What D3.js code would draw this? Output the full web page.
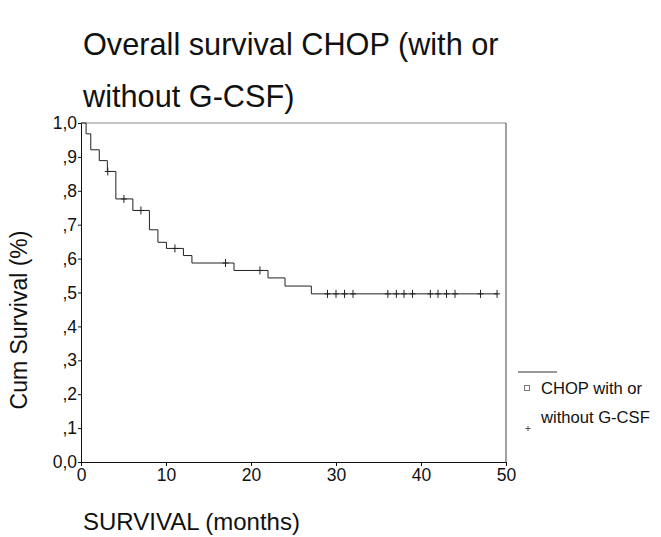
<!DOCTYPE html>
<html>
<head>
<meta charset="utf-8">
<script src="https://cdn.jsdelivr.net/npm/d3@7"></script>
<style>
  body { margin: 0; background: #fff; }
  svg { display: block; font-family: "Liberation Sans", Arial, sans-serif; }
</style>
</head>
<body>
<div id="chart"></div>
<script>
// step drops: month of event, survival after it
var eventTimes = [0.6, 1.15, 2.15, 3.1, 4.1, 6.1, 8.05, 9.05, 10.05, 12.05, 13.05, 18.0, 22.0, 24.0, 27.1];
var eventSurv  = [0.968, 0.921, 0.889, 0.857, 0.776, 0.742, 0.685, 0.648, 0.630, 0.609, 0.587, 0.565, 0.543, 0.519, 0.496];
var lastTime = 49;

// censored cases (the little + marks)
var censorTimes = [3.15, 5.05, 7.05, 11.05, 17.0, 21.05, 29, 30, 31, 32, 36.1, 37.1, 38, 39, 41.1, 42, 43, 44, 47, 48.95];

var xTicks = [0, 10, 20, 30, 40, 50];
var yTicks = [0, 0.1, 0.2, 0.3, 0.4, 0.5, 0.6, 0.7, 0.8, 0.9, 1.0];
var yTickLabels = ["0,0", ",1", ",2", ",3", ",4", ",5", ",6", ",7", ",8", ",9", "1,0"];

var width = 661, height = 537;
var plotLeft = 81, plotRight = 506, plotTop = 123, plotBottom = 462;

var svg = d3.select("#chart").append("svg")
  .attr("width", width)
  .attr("height", height);

var xScale = d3.scaleLinear().domain([0, 50]).range([plotLeft, plotRight]);
var yScale = d3.scaleLinear().domain([0, 1]).range([plotBottom, plotTop]);

// build the step points
var pts = [{t: 0, s: 1}];
eventTimes.forEach(function(t, i) { pts.push({t: t, s: eventSurv[i]}); });
pts.push({t: lastTime, s: eventSurv[eventSurv.length - 1]});

function survAt(t) {
  var s = 1;
  eventTimes.forEach(function(e, i) { if (e <= t) s = eventSurv[i]; });
  return s;
}

// title
svg.append("text").attr("x", 83).attr("y", 55)
  .attr("font-size", 30.7).attr("fill", "#111")
  .text("Overall survival CHOP (with or");
svg.append("text").attr("x", 83).attr("y", 107)
  .attr("font-size", 30.7).attr("fill", "#111")
  .text("without G-CSF)");

// frame (top and right)
svg.append("line")
  .attr("x1", plotLeft).attr("x2", plotRight).attr("y1", plotTop).attr("y2", plotTop)
  .attr("stroke", "#888").attr("stroke-width", 1);
svg.append("line")
  .attr("x1", plotRight).attr("x2", plotRight).attr("y1", plotTop).attr("y2", plotBottom)
  .attr("stroke", "#444").attr("stroke-width", 1);

// axes
var yAxis = d3.axisLeft(yScale)
  .tickValues(yTicks)
  .tickFormat(function(d, i) { return yTickLabels[i]; })
  .tickSizeInner(3).tickSizeOuter(0).tickPadding(1);
var gy = svg.append("g").attr("transform", "translate(" + plotLeft + ",0)").call(yAxis);

var xAxis = d3.axisBottom(xScale)
  .tickValues(xTicks)
  .tickSizeInner(4).tickSizeOuter(0).tickPadding(3);
var gx = svg.append("g").attr("transform", "translate(0," + plotBottom + ")").call(xAxis);

[gx, gy].forEach(function(g) {
  g.select(".domain").attr("stroke", "#111");
  g.selectAll(".tick line").attr("stroke", "#111");
  g.selectAll(".tick text")
    .attr("font-family", "Liberation Sans, Arial, sans-serif")
    .attr("font-size", 17.5).attr("fill", "#111");
});

// survival curve
var line = d3.line()
  .x(function(d) { return xScale(d.t); })
  .y(function(d) { return yScale(d.s); })
  .curve(d3.curveStepAfter);

svg.append("path")
  .datum(pts)
  .attr("d", line)
  .attr("fill", "none")
  .attr("stroke", "#222")
  .attr("stroke-width", 1);

// censor marks
var cg = svg.selectAll(".cens").data(censorTimes).enter().append("g")
  .attr("class", "cens")
  .attr("transform", function(d) { return "translate(" + xScale(d) + "," + yScale(survAt(d)) + ")"; });
cg.append("line").attr("x1", 0).attr("x2", 0).attr("y1", -4).attr("y2", 4)
  .attr("stroke", "#222").attr("stroke-width", 1);
cg.append("line").attr("x1", -3).attr("x2", 3).attr("y1", 0).attr("y2", 0)
  .attr("stroke", "#222").attr("stroke-width", 1);

// axis titles
svg.append("text")
  .attr("transform", "translate(27,320) rotate(-90)")
  .attr("text-anchor", "middle")
  .attr("font-size", 23).attr("fill", "#111")
  .text("Cum Survival (%)");

svg.append("text").attr("x", 83).attr("y", 530)
  .attr("font-size", 24).attr("fill", "#111")
  .text("SURVIVAL (months)");

// legend
var lg = svg.append("g");
lg.append("line").attr("x1", 518).attr("x2", 557).attr("y1", 372).attr("y2", 372)
  .attr("stroke", "#333").attr("stroke-width", 1);
lg.append("rect").attr("x", 524.5).attr("y", 385.5).attr("width", 5).attr("height", 5)
  .attr("fill", "none").attr("stroke", "#777").attr("stroke-width", 1);
lg.append("text").attr("x", 541).attr("y", 394).attr("font-size", 16.6).attr("fill", "#111")
  .text("CHOP with or");
lg.append("text").attr("x", 541).attr("y", 423).attr("font-size", 16.6).attr("fill", "#111")
  .text("without G-CSF");
lg.append("line").attr("x1", 528).attr("x2", 528).attr("y1", 426).attr("y2", 431)
  .attr("stroke", "#555").attr("stroke-width", 1);
lg.append("line").attr("x1", 525.5).attr("x2", 530.5).attr("y1", 428.5).attr("y2", 428.5)
  .attr("stroke", "#555").attr("stroke-width", 1);
</script>
</body>
</html>
